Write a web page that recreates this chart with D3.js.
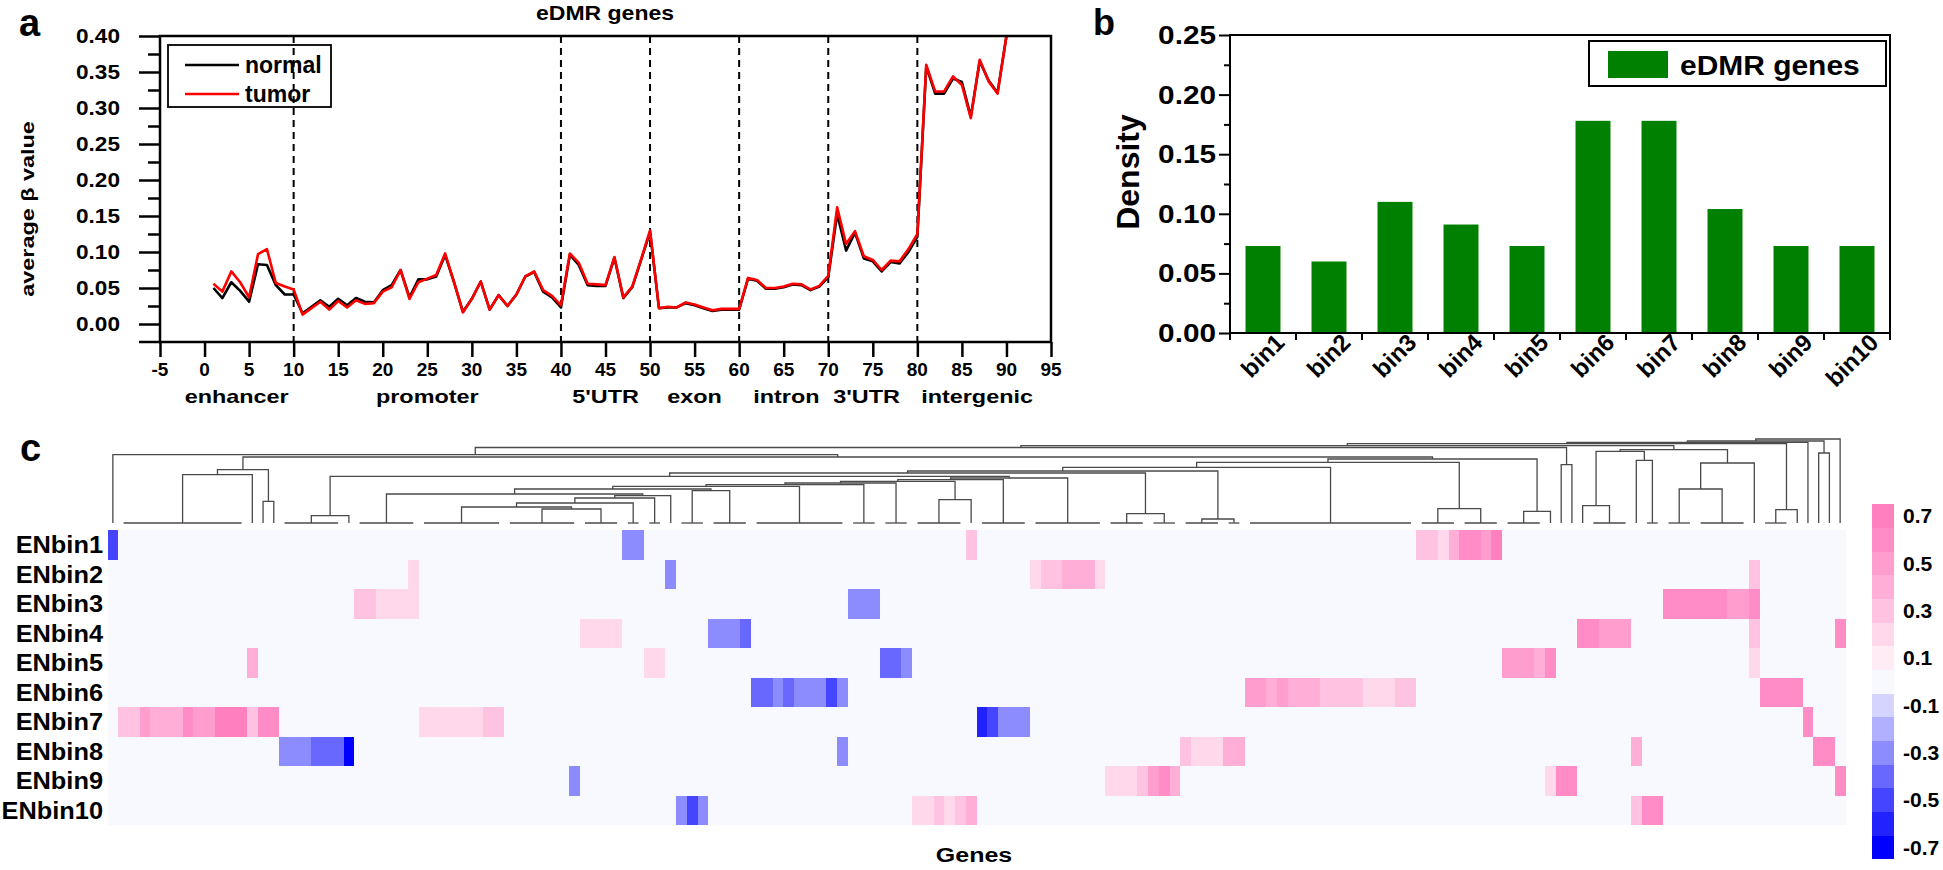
<!DOCTYPE html>
<html><head><meta charset="utf-8">
<script src="https://cdn.jsdelivr.net/npm/d3@7"></script>
<style>body{margin:0;background:#fff}svg{display:block}text{font-family:"Liberation Sans",Arial,Helvetica,sans-serif}</style>
</head><body><svg id="fig" width="1943" height="870"></svg>
<script>
// ================= DATA =================
// Panel a: average beta value along gene regions (positions 1..90)
const posA = d3.range(1, 91);
const tumorVals = [0.056,0.045,0.073,0.058,0.037,0.097,0.104,0.057,0.052,0.048,
  0.013,0.022,0.031,0.020,0.032,0.023,0.033,0.028,0.029,0.045,
  0.051,0.075,0.035,0.058,0.063,0.068,0.098,0.058,0.016,0.035,
  0.059,0.020,0.040,0.025,0.041,0.066,0.073,0.047,0.039,0.026,
  0.098,0.085,0.056,0.055,0.054,0.093,0.037,0.052,0.090,0.130,
  0.022,0.024,0.023,0.030,0.027,0.023,0.019,0.021,0.021,0.021,
  0.064,0.061,0.050,0.050,0.052,0.056,0.055,0.048,0.053,0.067,
  0.162,0.111,0.129,0.094,0.089,0.075,0.088,0.087,0.104,0.125,
  0.360,0.323,0.323,0.344,0.332,0.286,0.367,0.337,0.320,0.400];
const normalVals = [0.050,0.036,0.058,0.046,0.031,0.083,0.082,0.054,0.041,0.041,
  0.015,0.024,0.033,0.024,0.035,0.026,0.036,0.031,0.030,0.047,
  0.054,0.075,0.037,0.062,0.062,0.066,0.096,0.058,0.017,0.035,
  0.059,0.020,0.040,0.025,0.041,0.066,0.072,0.045,0.037,0.023,
  0.096,0.082,0.054,0.053,0.053,0.092,0.036,0.051,0.089,0.128,
  0.022,0.023,0.023,0.029,0.026,0.022,0.018,0.020,0.020,0.020,
  0.063,0.060,0.049,0.049,0.051,0.055,0.054,0.047,0.052,0.065,
  0.153,0.102,0.127,0.091,0.087,0.073,0.086,0.084,0.100,0.121,
  0.358,0.320,0.320,0.341,0.336,0.288,0.365,0.338,0.321,0.400];
const seriesNames = ["normal", "tumor"];
const xTicksA = [-5,0,5,10,15,20,25,30,35,40,45,50,55,60,65,70,75,80,85,90,95];
const yTicksA = [0,0.05,0.10,0.15,0.20,0.25,0.30,0.35,0.40];
const yMinorA = [0.025,0.075,0.125,0.175,0.225,0.275,0.325,0.375];
const dividersA = [10,40,50,60,70,80];
const regionNames = ["enhancer","promoter","5'UTR","exon","intron","3'UTR","intergenic"];
const regionAt = [3.6,25,45,55,65.3,74.3,86.7];

// Panel b: density of eDMR genes per bin
const binNames = ["bin1","bin2","bin3","bin4","bin5","bin6","bin7","bin8","bin9","bin10"];
const densityVals = [0.073,0.060,0.110,0.091,0.073,0.178,0.178,0.104,0.073,0.073];
const yTicksB = [0,0.05,0.10,0.15,0.20,0.25];
const yMinorB = [0.025,0.075,0.125,0.175,0.225];

// Panel c: heatmap (run-length segments per row: [firstCol, lastCol, value]); 162 gene columns
const nGenes = 162;
const rowLabels = ["ENbin1","ENbin2","ENbin3","ENbin4","ENbin5","ENbin6","ENbin7","ENbin8","ENbin9","ENbin10"];
const enbin1 = [[0,0,-0.5],[48,49,-0.3],[80,80,0.3],[122,123,0.3],[124,124,0.2],[125,125,0.4],[126,127,0.6],[128,128,0.5],[129,129,0.7]];
const enbin2 = [[28,28,0.2],[52,52,-0.3],[86,86,0.2],[87,88,0.3],[89,91,0.4],[92,92,0.2],[153,153,0.3]];
const enbin3 = [[23,24,0.3],[25,28,0.2],[69,71,-0.3],[145,150,0.6],[151,152,0.5],[153,153,0.6]];
const enbin4 = [[44,47,0.2],[56,58,-0.3],[59,59,-0.4],[137,138,0.6],[139,141,0.5],[153,153,0.3],[161,161,0.6]];
const enbin5 = [[13,13,0.4],[50,51,0.2],[72,73,-0.4],[74,74,-0.3],[130,132,0.5],[133,133,0.4],[134,134,0.6],[153,153,0.2]];
const enbin6 = [[60,61,-0.4],[62,62,-0.3],[63,63,-0.4],[64,66,-0.3],[67,67,-0.5],[68,68,-0.3],[106,107,0.5],[108,108,0.4],[109,109,0.5],[110,112,0.4],[113,116,0.3],[117,119,0.2],[120,121,0.3],[154,157,0.6]];
const enbin7 = [[1,2,0.3],[3,3,0.5],[4,6,0.4],[7,7,0.6],[8,9,0.5],[10,12,0.7],[13,13,0.3],[14,15,0.6],[29,34,0.2],[35,36,0.3],[81,81,-0.6],[82,82,-0.5],[83,85,-0.3],[158,158,0.6]];
const enbin8 = [[16,18,-0.3],[19,21,-0.4],[22,22,-0.7],[68,68,-0.3],[100,100,0.3],[101,103,0.2],[104,105,0.4],[142,142,0.4],[159,160,0.6]];
const enbin9 = [[43,43,-0.3],[93,95,0.2],[96,96,0.3],[97,97,0.5],[98,98,0.6],[99,99,0.4],[134,134,0.2],[135,136,0.6],[161,161,0.6]];
const enbin10 = [[53,53,-0.3],[54,54,-0.5],[55,55,-0.3],[75,76,0.2],[77,77,0.3],[78,78,0.2],[79,79,0.3],[80,80,0.4],[142,142,0.3],[143,144,0.6]];
const heatRows = [enbin1,enbin2,enbin3,enbin4,enbin5,enbin6,enbin7,enbin8,enbin9,enbin10];

// colour key levels and colours (from -0.7 to 0.7)
const cbLevels = [-0.7,-0.6,-0.5,-0.4,-0.3,-0.2,-0.1,0,0.1,0.2,0.3,0.4,0.5,0.6,0.7];
const cbColors = ["#0000FF","#2222FF","#4545FF","#6868FF","#8C8CFF","#B0B0FF","#D4D4FF","#F8F8FF",
                  "#FFECF5","#FFD8EB","#FFC3E1","#FFAFD7","#FF9DCE","#FF8CC6","#FF7FBF"];
const cbLabels = [0.7,0.5,0.3,0.1,-0.1,-0.3,-0.5,-0.7];

// dendrogram: [height, left, right]; leaves = column index or "a-b" (zero-height group)
const dendroTree =
[84,
 [82,
  [80.6,
   [79.3,
    [77.3,
     [75.5,
      [68.3, 0,
       [66,
        [53.3, [48.3, "1-12", 13], [21.7, 14, 15]],
        [64,
         [60.6,
          [55.6,
           [52,
            [50,
             [46.6,
              [7.3, "16-21", 22],
              [45,
               [43.3,
                [41.6,
                 [40,
                  [38.3,
                   [36.6,
                    [34,
                     [29, "23-28",
                      [27.3, [25, [20, [16, "29-36", [14, "37-43", "44-47"]], "48-49"], "50-51"], 52]],
                     [32.3, "53-55", "56-59"]],
                    "60-68"],
                   "69-71"],
                  "72-74"],
                 [23.3, "75-79", 80]],
                "81-85"],
               "86-92"]],
             [9.3, "93-96", "97-99"]],
            [4, "100-103", "104-105"]],
           "106-121"],
          [14.3, "122-125", "126-129"]],
         [11.7, "130-133", 134]]]],
      [58.3, 135, 136]],
     [73.3,
      [71.6, [17.3, 137, "138-141"], [62.6, 142, "143-144"]],
      [60, [34, "145-147", "148-152"], 153]]],
    [13.3, "154-156", 157]],
   158],
  [70, 159, 160]],
 161];

// ================= DRAWING =================
const svg = d3.select("#fig");
svg.append("rect").attr("width",1943).attr("height",870).attr("fill","#fff");

function txt(g, x, y, s, o) {
  o = Object.assign({size:20, anchor:"start", weight:"bold", sx:1, rot:0, dy:null, fill:"#000"}, o || {});
  const t = g.append("text")
    .attr("transform", `translate(${x},${y}) rotate(${o.rot}) scale(${o.sx},1)`)
    .attr("font-size", o.size).attr("font-weight", o.weight)
    .attr("text-anchor", o.anchor).attr("fill", o.fill).text(s);
  if (o.dy) t.attr("dy", o.dy);
  return t;
}

// ---------- Panel a ----------
const gA = svg.append("g");
const xA = d3.scaleLinear().domain([-5,95]).range([160,1051]);
const yA = d3.scaleLinear().domain([-0.025,0.40]).range([342,36]);

txt(gA, 19, 36, "a", {size:38});
txt(gA, 605, 20, "eDMR genes", {size:19.5, anchor:"middle", sx:1.18});

// dashed dividers
gA.selectAll("line.div").data(dividersA).join("line")
  .attr("x1", d=>xA(d)).attr("x2", d=>xA(d)).attr("y1", yA(0.40)).attr("y2", yA(-0.025))
  .attr("stroke","#000").attr("stroke-width",2).attr("stroke-dasharray","7,5");

// lines
const lineA = d3.line().x((d,i)=>xA(posA[i])).y(d=>yA(d));
gA.append("path").datum(normalVals).attr("d", lineA).attr("fill","none")
  .attr("stroke","#000").attr("stroke-width",2.6).attr("stroke-linejoin","round");
gA.append("path").datum(tumorVals).attr("d", lineA).attr("fill","none")
  .attr("stroke","#FF0000").attr("stroke-width",2.6).attr("stroke-linejoin","round");

// frame
gA.append("rect").attr("x", xA(-5)).attr("y", yA(0.40))
  .attr("width", xA(95)-xA(-5)).attr("height", yA(-0.025)-yA(0.40))
  .attr("fill","none").attr("stroke","#000").attr("stroke-width",2.5);
gA.append("line").attr("x1", xA(-5)-21).attr("x2", xA(-5)).attr("y1", yA(-0.025)).attr("y2", yA(-0.025))
  .attr("stroke","#000").attr("stroke-width",2.5);

// axes (tick marks)
gA.append("g").attr("transform",`translate(0,${yA(-0.025)})`)
  .call(d3.axisBottom(xA).tickValues(xTicksA).tickSize(15).tickFormat(""))
  .call(g=>g.select(".domain").remove())
  .call(g=>g.selectAll("line").attr("stroke-width",2.5));
gA.append("g").attr("transform",`translate(${xA(-5)},0)`)
  .call(d3.axisLeft(yA).tickValues(yTicksA).tickSize(21).tickFormat(""))
  .call(g=>g.select(".domain").remove())
  .call(g=>g.selectAll("line").attr("stroke-width",2.5));
gA.append("g").attr("transform",`translate(${xA(-5)},0)`)
  .call(d3.axisLeft(yA).tickValues(yMinorA).tickSize(12).tickFormat(""))
  .call(g=>g.select(".domain").remove())
  .call(g=>g.selectAll("line").attr("stroke-width",2.5));
yTicksA.forEach(v => txt(gA, 120, yA(v), v.toFixed(2), {size:20, anchor:"end", sx:1.13, dy:"0.36em"}));
xTicksA.forEach(v => txt(gA, xA(v), 376, String(v), {size:19, anchor:"middle"}));
regionNames.forEach((r,i) => txt(gA, xA(regionAt[i]), 403, r, {size:18, anchor:"middle", sx:1.3}));
txt(gA, 34, (yA(0.40)+yA(-0.025))/2 + 20, "average β value", {size:18, anchor:"middle", rot:-90, sx:1.3});

// legend
gA.append("rect").attr("x",168).attr("y",45).attr("width",163).attr("height",62)
  .attr("fill","none").attr("stroke","#000").attr("stroke-width",1.8);
const legColors = ["#000","#FF0000"];
seriesNames.forEach((s,i) => {
  const yy = 65 + i*29;
  gA.append("line").attr("x1",185).attr("x2",239).attr("y1",yy).attr("y2",yy)
    .attr("stroke",legColors[i]).attr("stroke-width",2.6);
  txt(gA, 245, yy+8, s, {size:23});
});

// ---------- Panel b ----------
const gB = svg.append("g");
const xB = d3.scaleBand().domain(binNames).range([1230,1890]).paddingInner(0.47).paddingOuter(0.235);
const yB = d3.scaleLinear().domain([0,0.25]).range([333,35]);
txt(gB, 1093, 35, "b", {size:36});

gB.selectAll("rect.bar").data(densityVals).join("rect")
  .attr("x",(d,i)=>xB(binNames[i])).attr("width",xB.bandwidth())
  .attr("y",d=>yB(d)).attr("height",d=>yB(0)-yB(d)).attr("fill","#008000");

gB.append("rect").attr("x",xB.range()[0]).attr("y",yB(0.25))
  .attr("width",xB.range()[1]-xB.range()[0]).attr("height",yB(0)-yB(0.25))
  .attr("fill","none").attr("stroke","#000").attr("stroke-width",2);
gB.append("g").attr("transform",`translate(${xB.range()[0]},0)`)
  .call(d3.axisLeft(yB).tickValues(yTicksB).tickSize(11).tickFormat(""))
  .call(g=>g.select(".domain").remove()).call(g=>g.selectAll("line").attr("stroke-width",2));
gB.append("g").attr("transform",`translate(${xB.range()[0]},0)`)
  .call(d3.axisLeft(yB).tickValues(yMinorB).tickSize(6).tickFormat(""))
  .call(g=>g.select(".domain").remove()).call(g=>g.selectAll("line").attr("stroke-width",2));
const bounds = d3.range(binNames.length+1).map(i => xB.range()[0] + i*xB.step());
gB.selectAll("line.bt").data(bounds).join("line")
  .attr("x1",d=>d).attr("x2",d=>d).attr("y1",yB(0)).attr("y2",yB(0)+7)
  .attr("stroke","#000").attr("stroke-width",2);
yTicksB.forEach(v => txt(gB, 1216, yB(v), v.toFixed(2), {size:25, anchor:"end", sx:1.19, dy:"0.36em"}));
binNames.forEach(b => txt(gB, xB(b)+xB.bandwidth()/2+23, 344, b, {size:24, anchor:"end", rot:-45}));
txt(gB, 1139, 172, "Density", {size:32, anchor:"middle", rot:-90});

gB.append("rect").attr("x",1589).attr("y",41).attr("width",297).attr("height",45)
  .attr("fill","none").attr("stroke","#000").attr("stroke-width",2);
gB.append("rect").attr("x",1608).attr("y",51).attr("width",60).attr("height",27).attr("fill","#008000");
txt(gB, 1680, 75, "eDMR genes", {size:28, sx:1.07});

// ---------- Panel c ----------
const gC = svg.append("g");
txt(gC, 20, 461, "c", {size:38});
const xH = d3.scaleBand().domain(d3.range(nGenes)).range([107.5,1845.5]);
const yH = d3.scaleBand().domain(rowLabels).range([530,825]);
const colorAsc = d3.scaleQuantize().domain([-0.75,0.75]).range(cbColors);

// matrix from segments
const cells = [];
heatRows.forEach((segs, r) => {
  const row = new Array(nGenes).fill(0);
  segs.forEach(([a,b,v]) => { for (let c=a; c<=b; c++) row[c] = v; });
  row.forEach((v,c) => cells.push({r, c, v}));
});
gC.append("g").selectAll("rect").data(cells).join("rect")
  .attr("x", d=>xH(d.c)).attr("y", d=>yH(rowLabels[d.r]))
  .attr("width", xH.bandwidth()+0.4).attr("height", yH.bandwidth()+0.4)
  .attr("fill", d=>colorAsc(d.v)).attr("shape-rendering","crispEdges");

rowLabels.forEach(r => txt(gC, 103, yH(r)+yH.bandwidth()/2, r, {size:23.5, anchor:"end", sx:1.08, dy:"0.36em"}));

// dendrogram
const yD = d3.scaleLinear().domain([0,84]).range([523,439]);
const cc = c => xH(c) + xH.bandwidth()/2;
const dPaths = [];
function lay(node) {
  if (typeof node === "number") return {x: cc(node), h: 0};
  if (typeof node === "string") {
    const [a,b] = node.split("-").map(Number);
    dPaths.push(`M${cc(a)},${yD(0)}H${cc(b)}`);
    return {x: (cc(a)+cc(b))/2, h: 0};
  }
  const [h, L, R] = node;
  const l = lay(L), r = lay(R);
  dPaths.push(`M${l.x},${yD(l.h)}V${yD(h)}H${r.x}V${yD(r.h)}`);
  return {x: (l.x+r.x)/2, h};
}
lay(dendroTree);
gC.append("g").selectAll("path").data(dPaths).join("path")
  .attr("d", d=>d).attr("fill","none").attr("stroke","#4a4a4a").attr("stroke-width",1.3);

// colour key
const yCB = d3.scaleBand().domain(cbLevels.slice().reverse()).range([504,859]);
gC.append("g").selectAll("rect").data(cbLevels).join("rect")
  .attr("x",1872).attr("width",22).attr("y",d=>yCB(d)).attr("height",yCB.bandwidth()+0.4)
  .attr("fill",d=>colorAsc(d)).attr("shape-rendering","crispEdges");
cbLabels.forEach(v => txt(gC, 1903, yCB(v)+yCB.bandwidth()/2, v.toFixed(1), {size:21, dy:"0.36em"}));

txt(gC, 974, 862, "Genes", {size:20, anchor:"middle", sx:1.25});
</script></body></html>
